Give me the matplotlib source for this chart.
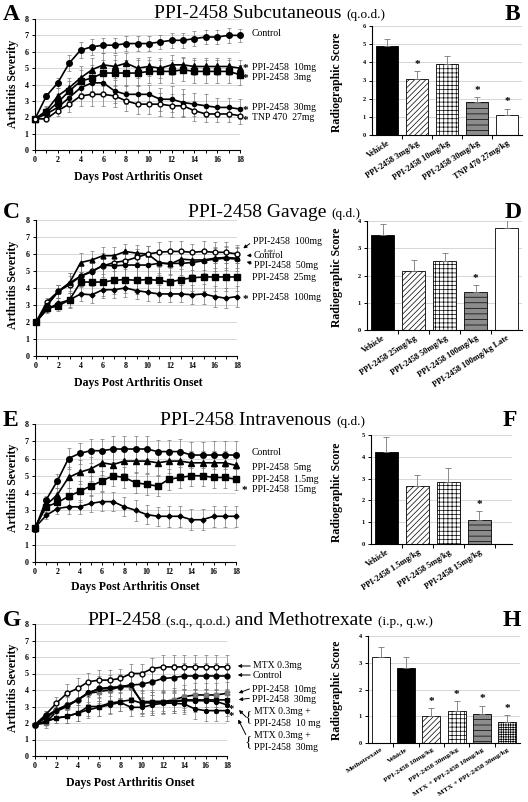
import numpy as np
import matplotlib.pyplot as plt
from matplotlib.patches import FancyArrowPatch

W, H = 528, 802
plt.rcParams['font.family'] = 'Liberation Serif'
plt.rcParams['hatch.linewidth'] = 0.5

days = np.arange(19)

# ---- A: subcutaneous
a_ctrl = [1.9, 3.3, 4.1, 5.3, 6.1, 6.3, 6.4, 6.4, 6.5, 6.5, 6.5, 6.6, 6.7, 6.7, 6.8, 6.9, 6.9, 7.0, 7.0]
a_ctrl_e = [0, 0.2, 0.3, 0.5, 0.5, 0.5, 0.45, 0.45, 0.45, 0.45, 0.45, 0.45, 0.45, 0.45, 0.45, 0.45, 0.45, 0.45, 0.4]
a_10 = [1.9, 2.4, 3.3, 3.8, 4.4, 4.9, 5.2, 5.1, 5.3, 5.0, 5.1, 5.0, 5.2, 5.2, 5.1, 5.1, 5.1, 5.1, 5.0]
a_10_e = [0, 0.3, 0.5, 0.6, 0.7, 0.7, 0.7, 0.7, 0.6, 0.6, 0.6, 0.6, 0.6, 0.5, 0.5, 0.5, 0.5, 0.5, 0.5]
a_3 = [1.9, 2.3, 2.9, 3.6, 4.2, 4.4, 4.7, 4.7, 4.7, 4.7, 4.8, 4.8, 4.8, 4.9, 4.8, 4.8, 4.8, 4.8, 4.6]
a_3_e = [0, 0.3, 0.5, 0.6, 0.7, 0.8, 0.8, 0.8, 0.8, 0.8, 0.7, 0.7, 0.7, 0.7, 0.7, 0.7, 0.7, 0.7, 0.6]
a_30 = [1.9, 2.2, 2.6, 3.2, 3.8, 4.1, 4.1, 3.6, 3.4, 3.4, 3.4, 3.1, 3.1, 2.9, 2.8, 2.7, 2.6, 2.6, 2.5]
a_30_e = [0, 0.2, 0.3, 0.5, 0.6, 0.7, 0.7, 0.7, 0.6, 0.6, 0.6, 0.7, 0.8, 0.8, 0.7, 0.7, 0.6, 0.6, 0.6]
a_tnp = [1.9, 1.9, 2.4, 2.8, 3.3, 3.4, 3.4, 3.3, 3.0, 2.8, 2.8, 2.8, 2.7, 2.7, 2.4, 2.2, 2.2, 2.2, 2.1]
a_tnp_e = [0, 0.1, 0.3, 0.5, 0.6, 0.7, 0.7, 0.7, 0.6, 0.6, 0.6, 0.7, 0.7, 0.7, 0.6, 0.5, 0.5, 0.5, 0.5]

b_labels = ['Vehicle', 'PPI-2458 3mg/kg', 'PPI-2458 10mg/kg', 'PPI-2458 30mg/kg', 'TNP 470 27mg/kg']
b_vals = [4.9, 3.1, 3.9, 1.8, 1.1]
b_errs = [0.4, 0.42, 0.45, 0.3, 0.35]
b_star = [False, True, False, True, True]

# ---- C: gavage
c_late = [2.0, 3.2, 3.8, 4.2, 4.7, 5.0, 5.3, 5.5, 5.6, 5.8, 6.0, 6.1, 6.15, 6.15, 6.1, 6.15, 6.1, 6.1, 6.0]
c_late_e = [0, 0.2, 0.4, 0.5, 0.6, 0.6, 0.5, 0.5, 0.5, 0.5, 0.5, 0.6, 0.6, 0.6, 0.5, 0.6, 0.6, 0.6, 0.55]
c_ctrl = [2.0, 3.0, 3.8, 4.3, 5.5, 5.65, 5.9, 5.9, 6.15, 6.05, 6.0, 5.5, 5.4, 5.7, 5.65, 5.65, 5.75, 5.8, 5.75]
c_ctrl_e = [0, 0.3, 0.4, 0.6, 0.55, 0.55, 0.5, 0.5, 0.45, 0.5, 0.5, 0.6, 0.6, 0.6, 0.6, 0.6, 0.6, 0.6, 0.6]
c_50 = [2.0, 3.0, 3.8, 4.3, 4.7, 4.95, 5.35, 5.3, 5.35, 5.35, 5.35, 5.45, 5.45, 5.45, 5.5, 5.6, 5.7, 5.75, 5.7]
c_50_e = [0, 0.3, 0.4, 0.6, 0.6, 0.7, 0.7, 0.7, 0.7, 0.7, 0.7, 0.7, 0.7, 0.7, 0.7, 0.7, 0.7, 0.7, 0.7]
c_25 = [2.0, 2.8, 2.95, 3.3, 4.35, 4.35, 4.35, 4.45, 4.5, 4.45, 4.5, 4.45, 4.35, 4.5, 4.6, 4.65, 4.65, 4.65, 4.65]
c_25_e = [0, 0.2, 0.3, 0.5, 0.6, 0.7, 0.8, 0.8, 0.8, 0.8, 0.8, 0.8, 0.8, 0.8, 0.8, 0.8, 0.8, 0.8, 0.8]
c_100 = [2.0, 2.75, 3.1, 3.3, 3.65, 3.6, 3.9, 3.9, 4.0, 3.85, 3.75, 3.65, 3.65, 3.65, 3.6, 3.65, 3.5, 3.4, 3.5]
c_100_e = [0, 0.2, 0.3, 0.4, 0.4, 0.5, 0.5, 0.5, 0.5, 0.5, 0.5, 0.5, 0.5, 0.5, 0.55, 0.6, 0.6, 0.6, 0.6]

d_labels = ['Vehicle', 'PPI-2458 25mg/kg', 'PPI-2458 50mg/kg', 'PPI-2458 100mg/kg', 'PPI-2458 100mg/kg Late']
d_vals = [3.5, 2.17, 2.53, 1.4, 3.75]
d_errs = [0.4, 0.4, 0.3, 0.25, 0.35]
d_star = [False, False, False, True, False]

# ---- E: intravenous
e_ctrl = [1.9, 3.6, 4.7, 6.0, 6.3, 6.45, 6.45, 6.55, 6.55, 6.55, 6.55, 6.4, 6.4, 6.4, 6.2, 6.2, 6.2, 6.2, 6.2]
e_ctrl_e = [0, 0.2, 0.4, 0.6, 0.6, 0.7, 0.7, 0.75, 0.75, 0.75, 0.75, 0.7, 0.7, 0.75, 0.75, 0.75, 0.8, 0.8, 0.8]
e_5 = [2.0, 3.3, 3.9, 4.9, 5.2, 5.4, 5.75, 5.65, 5.85, 5.85, 5.85, 5.75, 5.85, 5.85, 5.75, 5.75, 5.75, 5.75, 5.6]
e_5_e = [0, 0.3, 0.4, 0.6, 0.7, 0.7, 0.7, 0.7, 0.7, 0.7, 0.7, 0.7, 0.7, 0.7, 0.7, 0.7, 0.7, 0.7, 0.7]
e_1p5 = [2.0, 3.2, 3.45, 3.8, 4.1, 4.4, 4.7, 5.0, 4.9, 4.6, 4.5, 4.4, 4.8, 4.9, 5.0, 5.0, 4.9, 4.9, 4.8]
e_1p5_e = [0, 0.3, 0.4, 0.5, 0.6, 0.6, 0.6, 0.6, 0.6, 0.6, 0.6, 0.6, 0.6, 0.6, 0.6, 0.6, 0.6, 0.6, 0.6]
e_15 = [2.0, 2.7, 3.1, 3.2, 3.2, 3.4, 3.5, 3.5, 3.2, 3.0, 2.75, 2.65, 2.65, 2.65, 2.45, 2.45, 2.65, 2.65, 2.65]
e_15_e = [0, 0.2, 0.3, 0.4, 0.4, 0.5, 0.55, 0.55, 0.55, 0.6, 0.55, 0.55, 0.6, 0.6, 0.6, 0.6, 0.6, 0.6, 0.6]

f_labels = ['Vehicle', 'PPI-2458 1.5mg/kg', 'PPI-2458 5mg/kg', 'PPI-2458 15mg/kg']
f_vals = [4.2, 2.68, 2.85, 1.1]
f_errs = [0.7, 0.5, 0.65, 0.42]
f_star = [False, False, False, True]

# ---- G: combination with methotrexate
g_mtx = [1.9, 2.5, 3.2, 3.8, 4.1, 4.5, 4.6, 4.6, 4.7, 5.0, 5.0, 5.3, 5.4, 5.4, 5.4, 5.4, 5.4, 5.4, 5.4]
g_mtx_e = [0, 0.2, 0.4, 0.55, 0.6, 0.55, 0.6, 0.6, 0.6, 0.6, 0.6, 0.65, 0.7, 0.7, 0.7, 0.7, 0.7, 0.7, 0.7]
g_ctrl = [1.9, 2.4, 2.8, 3.1, 3.4, 3.8, 4.1, 4.15, 4.2, 4.3, 4.35, 4.5, 4.7, 4.75, 4.85, 4.85, 4.85, 4.85, 4.85]
g_ctrl_e = [0, 0.3, 0.5, 0.6, 0.7, 0.7, 0.75, 0.75, 0.75, 0.75, 0.8, 0.8, 0.8, 0.8, 0.8, 0.8, 0.8, 0.8, 0.8]
g_10 = [1.9, 2.0, 2.7, 3.0, 3.4, 3.8, 3.9, 4.0, 4.2, 4.2, 3.3, 3.3, 3.3, 3.4, 3.6, 3.7, 3.7, 3.7, 3.8]
g_10_e = [0, 0.3, 0.5, 0.6, 0.7, 0.7, 0.7, 0.7, 0.7, 0.7, 0.7, 0.7, 0.7, 0.7, 0.7, 0.7, 0.7, 0.7, 0.7]
g_30 = [1.9, 2.1, 2.3, 2.4, 2.6, 3.0, 3.0, 3.2, 3.3, 3.4, 3.2, 3.3, 3.3, 3.3, 3.4, 3.4, 3.4, 3.4, 3.4]
g_30_e = [0, 0.2, 0.3, 0.4, 0.5, 0.6, 0.6, 0.6, 0.6, 0.6, 0.6, 0.6, 0.6, 0.6, 0.6, 0.6, 0.6, 0.6, 0.6]
g_m10 = [1.9, 2.3, 2.75, 3.05, 3.4, 3.85, 4.05, 4.1, 4.2, 4.3, 3.25, 3.2, 3.25, 3.3, 3.35, 3.35, 3.35, 3.3, 3.1]
g_m10_e = [0, 0.3, 0.5, 0.6, 0.7, 0.7, 0.7, 0.7, 0.7, 0.7, 0.7, 0.7, 0.7, 0.7, 0.7, 0.7, 0.7, 0.7, 0.7]
g_m30 = [1.9, 2.1, 2.3, 2.4, 2.6, 2.8, 2.95, 3.1, 3.25, 2.95, 2.95, 3.1, 3.2, 3.2, 3.15, 2.85, 2.75, 2.75, 2.75]
g_m30_e = [0, 0.2, 0.3, 0.4, 0.5, 0.5, 0.55, 0.55, 0.55, 0.55, 0.55, 0.6, 0.6, 0.6, 0.6, 0.6, 0.6, 0.6, 0.6]

h_labels = ['Methotrexate', 'Vehicle', 'PPI-2458 10mg/kg', 'PPI-2458 30mg/kg',
            'MTX + PPI-2458 10mg/kg', 'MTX + PPI-2458 30mg/kg']
h_vals = [3.2, 2.82, 1.0, 1.2, 1.1, 0.8]
h_errs = [0.38, 0.38, 0.32, 0.38, 0.3, 0.25]
h_star = [False, False, True, True, True, True]

fig = plt.figure(figsize=(W / 100, H / 100), dpi=100)
renderer = fig.canvas.get_renderer()


def pax(l, r, t, b):
    return fig.add_axes([l / W, 1 - b / H, (r - l) / W, (b - t) / H])


def ftext(x, y, s, **kw):
    return fig.text(x / W, 1 - y / H, s, **kw)


def title(x, y, parts):
    # pieces of the panel title written one after another on a common baseline
    for s, size in parts:
        t = ftext(x, y, s, fontsize=size, va='baseline')
        x = t.get_window_extent(renderer).x1 + 5


def arrow(x0, y0, x1, y1):
    fig.add_artist(FancyArrowPatch((x0 / W, 1 - y0 / H), (x1 / W, 1 - y1 / H),
                                   transform=fig.transFigure, arrowstyle='-|>',
                                   mutation_scale=5, lw=0.7, color='black'))


def style_axis(ax):
    for s in ['top', 'right']:
        ax.spines[s].set_visible(False)
    for s in ['left', 'bottom']:
        ax.spines[s].set_linewidth(0.8)
    ax.yaxis.grid(True, color='#d0d0d0', lw=0.6)
    ax.set_axisbelow(True)


def line_panel(box, series, xlab_xy, ylab_xy):
    ax = pax(*box)
    for y, e, m, fc, ms in series:
        ax.errorbar(days, y, yerr=e, color='black', marker=m, mfc=fc,
                    mec='black' if fc != '#888888' else '#777777',
                    ms=ms, lw=1.2, ecolor='#777777', elinewidth=0.5, capsize=1.3, capthick=0.5,
                    clip_on=False, zorder=3)
    ax.set_xlim(0, 18)
    ax.set_ylim(0, 8)
    ax.set_xticks(range(0, 19, 2))
    ax.set_xticks(range(19), minor=True)
    ax.set_yticks(range(9))
    style_axis(ax)
    ax.tick_params(which='both', length=2.5, width=0.7, pad=2, labelsize=5.8)
    for lab in ax.get_xticklabels() + ax.get_yticklabels():
        lab.set_fontweight('bold')
    ftext(*xlab_xy, 'Days Post Arthritis Onset', fontsize=8.5, fontweight='bold', ha='center', va='center')
    ftext(*ylab_xy, 'Arthritis Severity', fontsize=8.5, fontweight='bold', ha='center', va='center', rotation=90)
    return ax


def bar_panel(box, labels, vals, errs, stars, styles, ymax, xmax, ylab_xy, lab_size=6):
    ax = pax(*box)
    x = np.arange(len(vals))
    for xi, v, e, (fc, hatch) in zip(x, vals, errs, styles):
        ax.bar(xi, v, width=0.72, color=fc, hatch=hatch, edgecolor='black', lw=0.6, zorder=2)
        ax.errorbar(xi, v, yerr=[[0], [e]], color='#777777', elinewidth=0.6, capsize=2.5,
                    capthick=0.6, zorder=3)
    for xi, v, e, s in zip(x, vals, errs, stars):
        if s:
            ax.text(xi, v + e + ymax * 0.02, '*', ha='center', va='bottom', fontsize=8,
                    fontweight='bold')
    ax.set_xlim(-0.5, xmax)
    ax.set_ylim(0, ymax)
    ax.set_yticks(range(ymax + 1))
    ax.set_xticks(x)
    ax.set_xticklabels(labels, rotation=33, ha='right', rotation_mode='anchor', fontsize=lab_size,
                       fontweight='bold')
    ax.set_xticks(np.arange(0.5, xmax, 1.0), minor=True)
    ax.tick_params(axis='x', which='major', length=0, pad=3)
    ax.tick_params(axis='x', which='minor', length=3, width=0.7)
    ax.tick_params(axis='y', length=2.5, width=0.7, pad=2, labelsize=4.5)
    for lab in ax.get_yticklabels():
        lab.set_fontweight('bold')
    style_axis(ax)
    ftext(*ylab_xy, 'Radiographic Score', fontsize=8.5, fontweight='bold', ha='center', va='center',
          rotation=90)
    return ax


BLACK = ('black', '')
DIAG = ('white', '//////')
GRID = ('white', '++++')
STRIPE = ('#8c8c8c', '---')
WHITE = ('white', '')
CHECK = ('white', '+++++++')

# ---------------- A / B
line_panel((35, 240, 19, 150), [
    (a_ctrl, a_ctrl_e, 'o', 'black', 4),
    (a_10, a_10_e, '^', 'black', 4),
    (a_3, a_3_e, 's', 'black', 3.8),
    (a_30, a_30_e, 'o', 'black', 3),
    (a_tnp, a_tnp_e, 'o', 'white', 3.5),
], (138, 177), (13, 84))
bar_panel((372, 522, 26, 135), b_labels, b_vals, b_errs, b_star,
          [BLACK, DIAG, GRID, STRIPE, WHITE], 6, 4.5, (337, 82))

ftext(3, 15, 'A', fontsize=17, fontweight='bold', va='center')
ftext(505, 14, 'B', fontsize=17, fontweight='bold', va='center')
title(154, 18, [('PPI-2458 Subcutaneous', 14), ('(q.o.d.)', 9.5)])
ftext(252, 34, 'Control', fontsize=7, va='center')
for yy, s in [(67, 'PPI-2458  10mg'), (77, 'PPI-2458  3mg'), (108, 'PPI-2458  30mg'), (118, 'TNP 470  27mg')]:
    ftext(243, yy + 2, '*', fontsize=8, fontweight='bold', va='center')
    ftext(252, yy, s, fontsize=7, va='center')

# ---------------- C / D
line_panel((36, 237, 220, 356), [
    (c_ctrl, c_ctrl_e, '^', 'black', 3.5),
    (c_late, c_late_e, 'o', 'white', 3.5),
    (c_50, c_50_e, 'o', 'black', 3),
    (c_25, c_25_e, 's', 'black', 3.8),
    (c_100, c_100_e, 'D', 'black', 2.5),
], (138, 383), (13, 285))
bar_panel((367, 522, 221, 330), d_labels, d_vals, d_errs, d_star,
          [BLACK, DIAG, GRID, STRIPE, WHITE], 4, 4.5, (337, 277))

ftext(3, 213, 'C', fontsize=17, fontweight='bold', va='center')
ftext(505, 213, 'D', fontsize=17, fontweight='bold', va='center')
title(188, 217, [('PPI-2458 Gavage', 14), ('(q.d.)', 9.5)])
ftext(253, 242, 'PPI-2458  100mg', fontsize=7, va='center')
ftext(264, 250, '(Late)', fontsize=3.5, va='center')
ftext(254, 255, 'Control', fontsize=7, va='center')
ftext(254, 265, 'PPI-2458  50mg', fontsize=7, va='center')
ftext(252, 278, 'PPI-2458  25mg', fontsize=7, va='center')
ftext(243, 299, '*', fontsize=8, fontweight='bold', va='center')
ftext(252, 297, 'PPI-2458  100mg', fontsize=7, va='center')
arrow(252, 242, 241, 250)
arrow(254, 255, 244, 256)
arrow(254, 264, 244, 261)

# ---------------- E / F
line_panel((35, 236, 424, 562), [
    (e_ctrl, e_ctrl_e, 'o', 'black', 4),
    (e_5, e_5_e, '^', 'black', 3.8),
    (e_1p5, e_1p5_e, 's', 'black', 3.8),
    (e_15, e_15_e, 'D', 'black', 2.5),
], (135, 587), (13, 488))
bar_panel((371, 512, 435, 544), f_labels, f_vals, f_errs, f_star,
          [BLACK, DIAG, GRID, STRIPE], 5, 4.05, (337, 492))

ftext(3, 421, 'E', fontsize=17, fontweight='bold', va='center')
ftext(503, 421, 'F', fontsize=17, fontweight='bold', va='center')
title(160, 425, [('PPI-2458 Intravenous', 14), ('(q.d.)', 9.5)])
ftext(252, 453, 'Control', fontsize=7, va='center')
ftext(252, 467, 'PPI-2458  5mg', fontsize=7, va='center')
ftext(252, 480, 'PPI-2458  1.5mg', fontsize=7, va='center')
ftext(242, 491, '*', fontsize=8, fontweight='bold', va='center')
ftext(252, 489, 'PPI-2458  15mg', fontsize=7, va='center')

# ---------------- G / H
line_panel((35, 227, 624, 756), [
    (g_mtx, g_mtx_e, 'o', 'white', 3.5),
    (g_ctrl, g_ctrl_e, 'o', 'black', 3.5),
    (g_10, g_10_e, 'X', '#888888', 3.5),
    (g_30, g_30_e, 's', 'black', 3),
    (g_m10, g_m10_e, 'o', 'black', 2.8),
    (g_m30, g_m30_e, 'o', 'black', 2.8),
], (130, 783), (13, 688))
bar_panel((368, 520, 636, 743), h_labels, h_vals, h_errs, h_star,
          [WHITE, BLACK, DIAG, GRID, STRIPE, CHECK], 4, 5.5, (337, 690), lab_size=5.3)

ftext(3, 620, 'G', fontsize=17, fontweight='bold', va='center')
ftext(503, 620, 'H', fontsize=17, fontweight='bold', va='center')
title(87, 625, [('PPI-2458', 14), ('(s.q., q.o.d.)', 9.5), ('and Methotrexate', 14), ('(i.p., q.w.)', 9.5)])
ftext(253, 666, 'MTX 0.3mg', fontsize=7, va='center')
ftext(253, 675, 'Control', fontsize=7, va='center')
ftext(252, 689, 'PPI-2458  10mg', fontsize=7, va='center')
ftext(252, 699, 'PPI-2458  30mg', fontsize=7, va='center')
arrow(253, 666, 235, 666)
arrow(253, 675, 235, 675)
arrow(252, 688, 236, 694)
arrow(252, 698, 236, 700)
ftext(229, 712, '*\n*', fontsize=7.5, fontweight='bold', va='center', linespacing=0.6)
ftext(245, 717, '{', fontsize=11, va='center')
ftext(254, 711, 'MTX 0.3mg +', fontsize=7, va='center')
ftext(254, 723, 'PPI-2458  10 mg', fontsize=7, va='center')
ftext(245, 742, '{', fontsize=11, va='center')
ftext(254, 736, 'MTX 0.3mg +', fontsize=7, va='center')
ftext(254, 748, 'PPI-2458  30mg', fontsize=7, va='center')
arrow(248, 719, 237, 708)
arrow(247, 737, 237, 717)

fig.savefig('out.png', dpi=100)
